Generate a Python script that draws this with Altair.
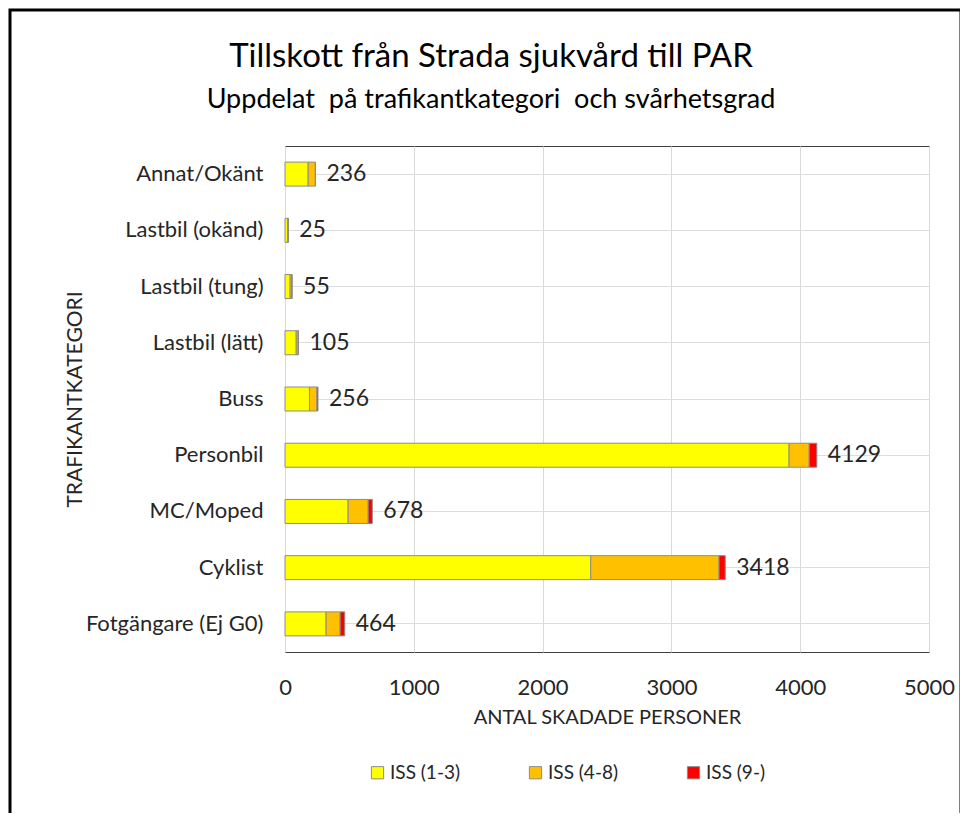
import altair as alt
import pandas as pd

categories = ["Annat/Okänt", "Lastbil (okänd)", "Lastbil (tung)", "Lastbil (lätt)",
              "Buss", "Personbil", "MC/Moped", "Cyklist", "Fotgängare (Ej G0)"]
series = ["ISS (1-3)", "ISS (4-8)", "ISS (9-)"]
iss_1_3 = [180, 22, 40, 87, 190, 3914, 490, 2374, 319]
iss_4_8 = [56, 3, 13, 15, 58, 156, 156, 996, 109]
iss_9 = [0, 0, 2, 3, 8, 59, 32, 48, 36]
totals = [236, 25, 55, 105, 256, 4129, 678, 3418, 464]
x_ticks = [0, 1000, 2000, 3000, 4000, 5000]
colors = ["#FFFF00", "#FFC000", "#FF0000"]

FONT = "Lato"
TXT = "#262626"
NB = "\u00a0"

rows = []
for i, c in enumerate(categories):
    for r, (s, vals) in enumerate(zip(series, [iss_1_3, iss_4_8, iss_9])):
        rows.append({"kategori": c, "serie": s, "antal": vals[i], "rank": r})
df = pd.DataFrame(rows)
tot = pd.DataFrame({"kategori": categories, "total": totals})

y_enc = alt.Y("kategori:N", sort=categories,
              axis=alt.Axis(title="TRAFIKANTKATEGORI", labelFontSize=22, labelColor=TXT,
                            labelPadding=22, ticks=False, domain=False, titleFontSize=21,
                            titleFontWeight="normal", titleColor=TXT, titlePadding=0,
                            labelFont=FONT, titleFont=FONT))

bars = alt.Chart(df).mark_bar(size=24, stroke="#8c8c8c", strokeWidth=1).encode(
    x=alt.X("sum(antal):Q", stack="zero",
            scale=alt.Scale(domain=[0, 5000], nice=False),
            axis=alt.Axis(values=x_ticks, format="d", title="ANTAL SKADADE PERSONER",
                          labelFontSize=22, labelColor=TXT, labelPadding=25, ticks=False,
                          domain=False, gridColor="#d9d9d9", titleFontSize=20,
                          titleFontWeight="normal", titleColor=TXT, titlePadding=9,
                          labelFont=FONT, titleFont=FONT, labelFlush=False)),
    y=y_enc,
    color=alt.Color("serie:N", scale=alt.Scale(domain=series, range=colors),
                    legend=alt.Legend(title=None, orient="none", legendX=83, legendY=617,
                                      direction="horizontal", columns=3, symbolType="square",
                                      symbolSize=150, symbolStrokeColor="#8c8c8c",
                                      symbolStrokeWidth=1, labelFontSize=19, labelFont=FONT,
                                      labelColor=TXT, columnPadding=65, padding=0,
                                      labelOffset=3)),
    order=alt.Order("rank:Q"),
)

labels = alt.Chart(tot).mark_text(align="left", baseline="middle", dx=11, fontSize=23,
                                  font=FONT, color=TXT).encode(
    x="total:Q",
    y=alt.Y("kategori:N", sort=categories),
    text="total:Q",
)

frame = alt.Chart(alt.Data(values=[{"f": 1}])).mark_rect(
    fill=None, stroke="black", strokeWidth=3).encode(
    x=alt.value(-275), x2=alt.value(676), y=alt.value(-136), y2=alt.value(720))

chart = alt.layer(frame, bars, labels).properties(
    width=644, height=506,
    autosize=alt.AutoSizeParams(type="none"),
    padding={"left": 277, "top": 138, "right": 31, "bottom": 161},
    title=alt.TitleParams(
        text="Tillskott från Strada sjukvård till PAR",
        subtitle=f"Uppdelat {NB}på trafikantkategori {NB}och svårhetsgrad",
        fontSize=33, subtitleFontSize=27, font=FONT, subtitleFont=FONT,
        fontWeight="normal", color="black", subtitleColor="black",
        anchor="middle", frame="group", dx=-116, offset=-104, subtitlePadding=13),
).configure_view(stroke="#404040", strokeWidth=1).configure_axis(grid=True)

chart.save("out.html", embed_options={"renderer": "svg", "actions": False})
